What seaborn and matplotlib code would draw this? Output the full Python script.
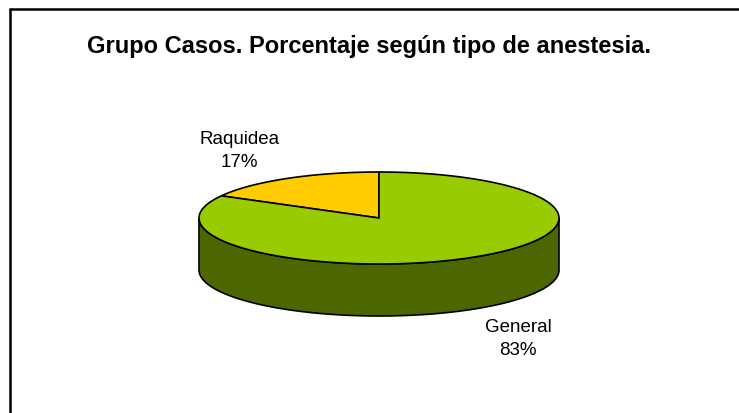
import matplotlib
matplotlib.use("Agg")
import matplotlib.pyplot as plt
import numpy as np
import seaborn as sns
from matplotlib.patches import Polygon
from matplotlib.lines import Line2D

sns.set_style("white")
plt.rcParams["font.family"] = ["Liberation Sans", "DejaVu Sans"]

# datos
categorias = ["General", "Raquidea"]
porcentajes = [83, 17]
colores_top = ["#99CC00", "#FFCC00"]
colores_lado = ["#4C6600", "#7F6600"]
titulo = "Grupo Casos. Porcentaje según tipo de anestesia."

# geometría del pastel (en píxeles)
cx, cy = 379, 219
a, b = 180, 46
depth = 52


def pt(t, dz=0.0):
    t = np.radians(t)
    return cx + a * np.cos(t), cy - b * np.sin(t) + dz


fig = plt.figure(figsize=(7.39, 4.14), dpi=100)
ax = fig.add_axes([0, 0, 1, 1])
ax.set_xlim(0, 739)
ax.set_ylim(414, 0)
ax.axis("off")

# ángulos: la porción pequeña empieza a las 12 y va en sentido antihorario
total = sum(porcentajes)
orden = [1, 0]
inicio = 90.0
rangos = {}
for i in orden:
    ext = 360.0 * porcentajes[i] / total
    rangos[i] = (inicio, inicio + ext)
    inicio += ext

# paredes laterales (sólo la mitad frontal, 180..360)
for i, (t0, t1) in rangos.items():
    for off in (0, 360, -360):
        s0, s1 = max(t0 + off, 180), min(t1 + off, 360)
        if s1 <= s0:
            continue
        ts = np.linspace(s0, s1, 120)
        top = [pt(t) for t in ts]
        bot = [pt(t, depth) for t in ts[::-1]]
        ax.add_patch(Polygon(top + bot, closed=True, facecolor=colores_lado[i],
                             edgecolor="black", lw=1.2, zorder=2))

# caras superiores
for i, (t0, t1) in rangos.items():
    ts = np.linspace(t0, t1, 200)
    verts = [(cx, cy)] + [pt(t) for t in ts]
    ax.add_patch(Polygon(verts, closed=True, facecolor=colores_top[i],
                         edgecolor="black", lw=1.2, zorder=3))

# etiquetas
for i, (t0, t1) in rangos.items():
    mid = (t0 + t1) / 2
    r = np.radians(mid)
    x = cx + a * 1.52 * np.cos(r)
    y = cy - b * 1.72 * np.sin(r) + (depth if np.sin(r) < 0 else 0)
    ax.text(x, y, f"{categorias[i]}\n{porcentajes[i]}%", ha="center", va="center",
            fontsize=13.5, linespacing=1.5, color="black")

ax.text(369, 46, titulo, ha="center", va="center", fontsize=17, fontweight="bold",
        color="black")

# marco (sólo arriba e izquierda visibles)
fig.add_artist(Line2D([9.5 / 739, 9.5 / 739], [0, 1 - 9.5 / 414], color="black", lw=1.8,
                      transform=fig.transFigure))
fig.add_artist(Line2D([9.5 / 739, 1], [1 - 9.5 / 414, 1 - 9.5 / 414], color="black", lw=1.8,
                      transform=fig.transFigure))

fig.savefig("out.png", dpi=100)
